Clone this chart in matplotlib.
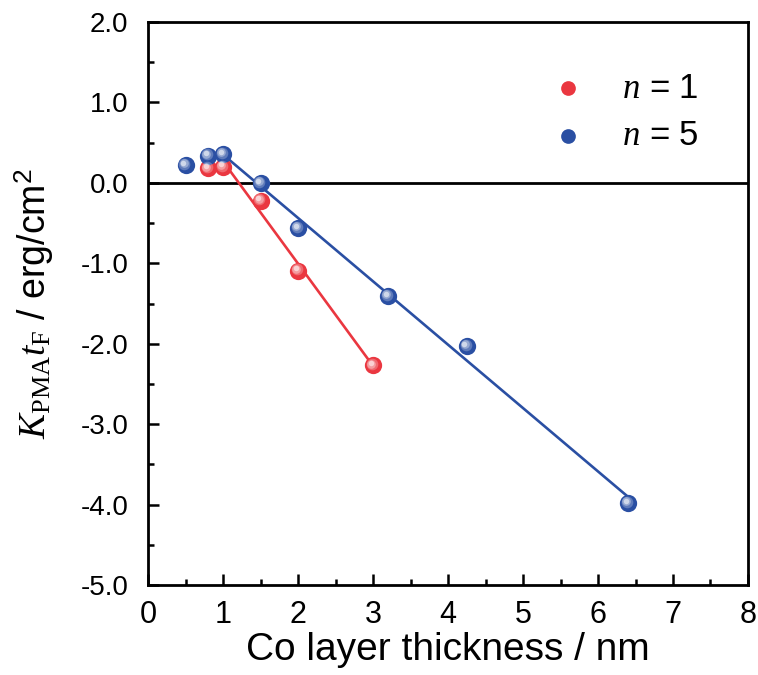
import numpy as np
import matplotlib
matplotlib.use("Agg")
import matplotlib.pyplot as plt
from matplotlib.transforms import offset_copy
from matplotlib.ticker import MultipleLocator, FormatStrFormatter

plt.rcParams["font.family"] = ["Liberation Sans", "DejaVu Sans"]
plt.rcParams["mathtext.fontset"] = "custom"
plt.rcParams["mathtext.rm"] = "Liberation Serif"
plt.rcParams["mathtext.it"] = "Liberation Serif:italic"
plt.rcParams["mathtext.sf"] = "Liberation Sans"

# Co thickness (nm) and K_PMA * t_F (erg/cm^2)
x_n1 = [0.8, 1.0, 1.5, 2.0, 3.0]
y_n1 = [0.18, 0.20, -0.22, -1.09, -2.27]
x_n5 = [0.5, 0.8, 1.0, 1.5, 2.0, 3.2, 4.25, 6.4]
y_n5 = [0.22, 0.34, 0.36, 0.0, -0.56, -1.41, -2.03, -3.98]
fit_start = 1.0  # linear fit uses points from this thickness on

labels = ["$n$ = 1", "$n$ = 5"]
red = "#EA3740"
blue = "#2A4FA3"

fig = plt.figure(figsize=(7.58, 6.75), dpi=100)
ax = fig.add_axes([0.1953, 0.1333, 0.7915, 0.8341])


def sphere(ax, xs, ys, color, size):
    """Solid marker with a soft highlight toward the upper left."""
    main = ax.scatter(xs, ys, s=size, color=color, zorder=5, linewidths=0)
    layers = [(0.45, 0.8, 0.25), (0.25, 1.3, 0.35), (0.1, 1.7, 0.55)]
    for frac, off, alpha in layers:
        tr = offset_copy(ax.transData, fig=ax.figure, x=-off, y=off, units="points")
        ax.scatter(xs, ys, s=size * frac, color="white", alpha=alpha,
                   linewidths=0, zorder=6, transform=tr)
    return main


for xs, ys, c in [(x_n1, y_n1, red), (x_n5, y_n5, blue)]:
    xa, ya = np.array(xs), np.array(ys)
    m = xa >= fit_start
    k, b = np.polyfit(xa[m], ya[m], 1)
    xl = np.array([xa[m].min(), xa[m].max()])
    ax.plot(xl, k * xl + b, color=c, lw=1.9, zorder=3)

h1 = sphere(ax, x_n1, y_n1, red, 155)
h5 = sphere(ax, x_n5, y_n5, blue, 155)

ax.axhline(0, color="black", lw=2.0, zorder=2)

ax.set_xlim(0, 8)
ax.set_ylim(-5, 2)
ax.xaxis.set_major_locator(MultipleLocator(1))
ax.xaxis.set_minor_locator(MultipleLocator(0.5))
ax.yaxis.set_major_locator(MultipleLocator(1))
ax.yaxis.set_minor_locator(MultipleLocator(0.5))
ax.yaxis.set_major_formatter(FormatStrFormatter("%.1f"))
ax.tick_params(which="both", direction="in", top=False, right=False, width=1.8)
ax.tick_params(axis="x", labelsize=22, pad=11)
ax.tick_params(axis="y", labelsize=20, pad=14)
ax.tick_params(which="major", length=8)
ax.tick_params(which="minor", length=4.5)
for s in ax.spines.values():
    s.set_linewidth(2.0)

ax.set_xlabel("Co layer thickness / nm", fontsize=28)
ax.xaxis.set_label_coords(0.499, -0.083)
ax.set_ylabel(r"$K_{\mathrm{PMA}}t_{\mathrm{F}}$ / erg/cm$^{\mathsf{2}}$",
              fontsize=27)
ax.yaxis.set_label_coords(-0.153, 0.50)

leg = ax.legend([h1, h5], labels, loc="upper left",
                bbox_to_anchor=(0.671, 0.912), frameon=False, fontsize=25,
                markerscale=0.85, handletextpad=1.05, labelspacing=0.42,
                handlelength=1.0, borderpad=0, borderaxespad=0)

fig.savefig("out.png", dpi=100)
